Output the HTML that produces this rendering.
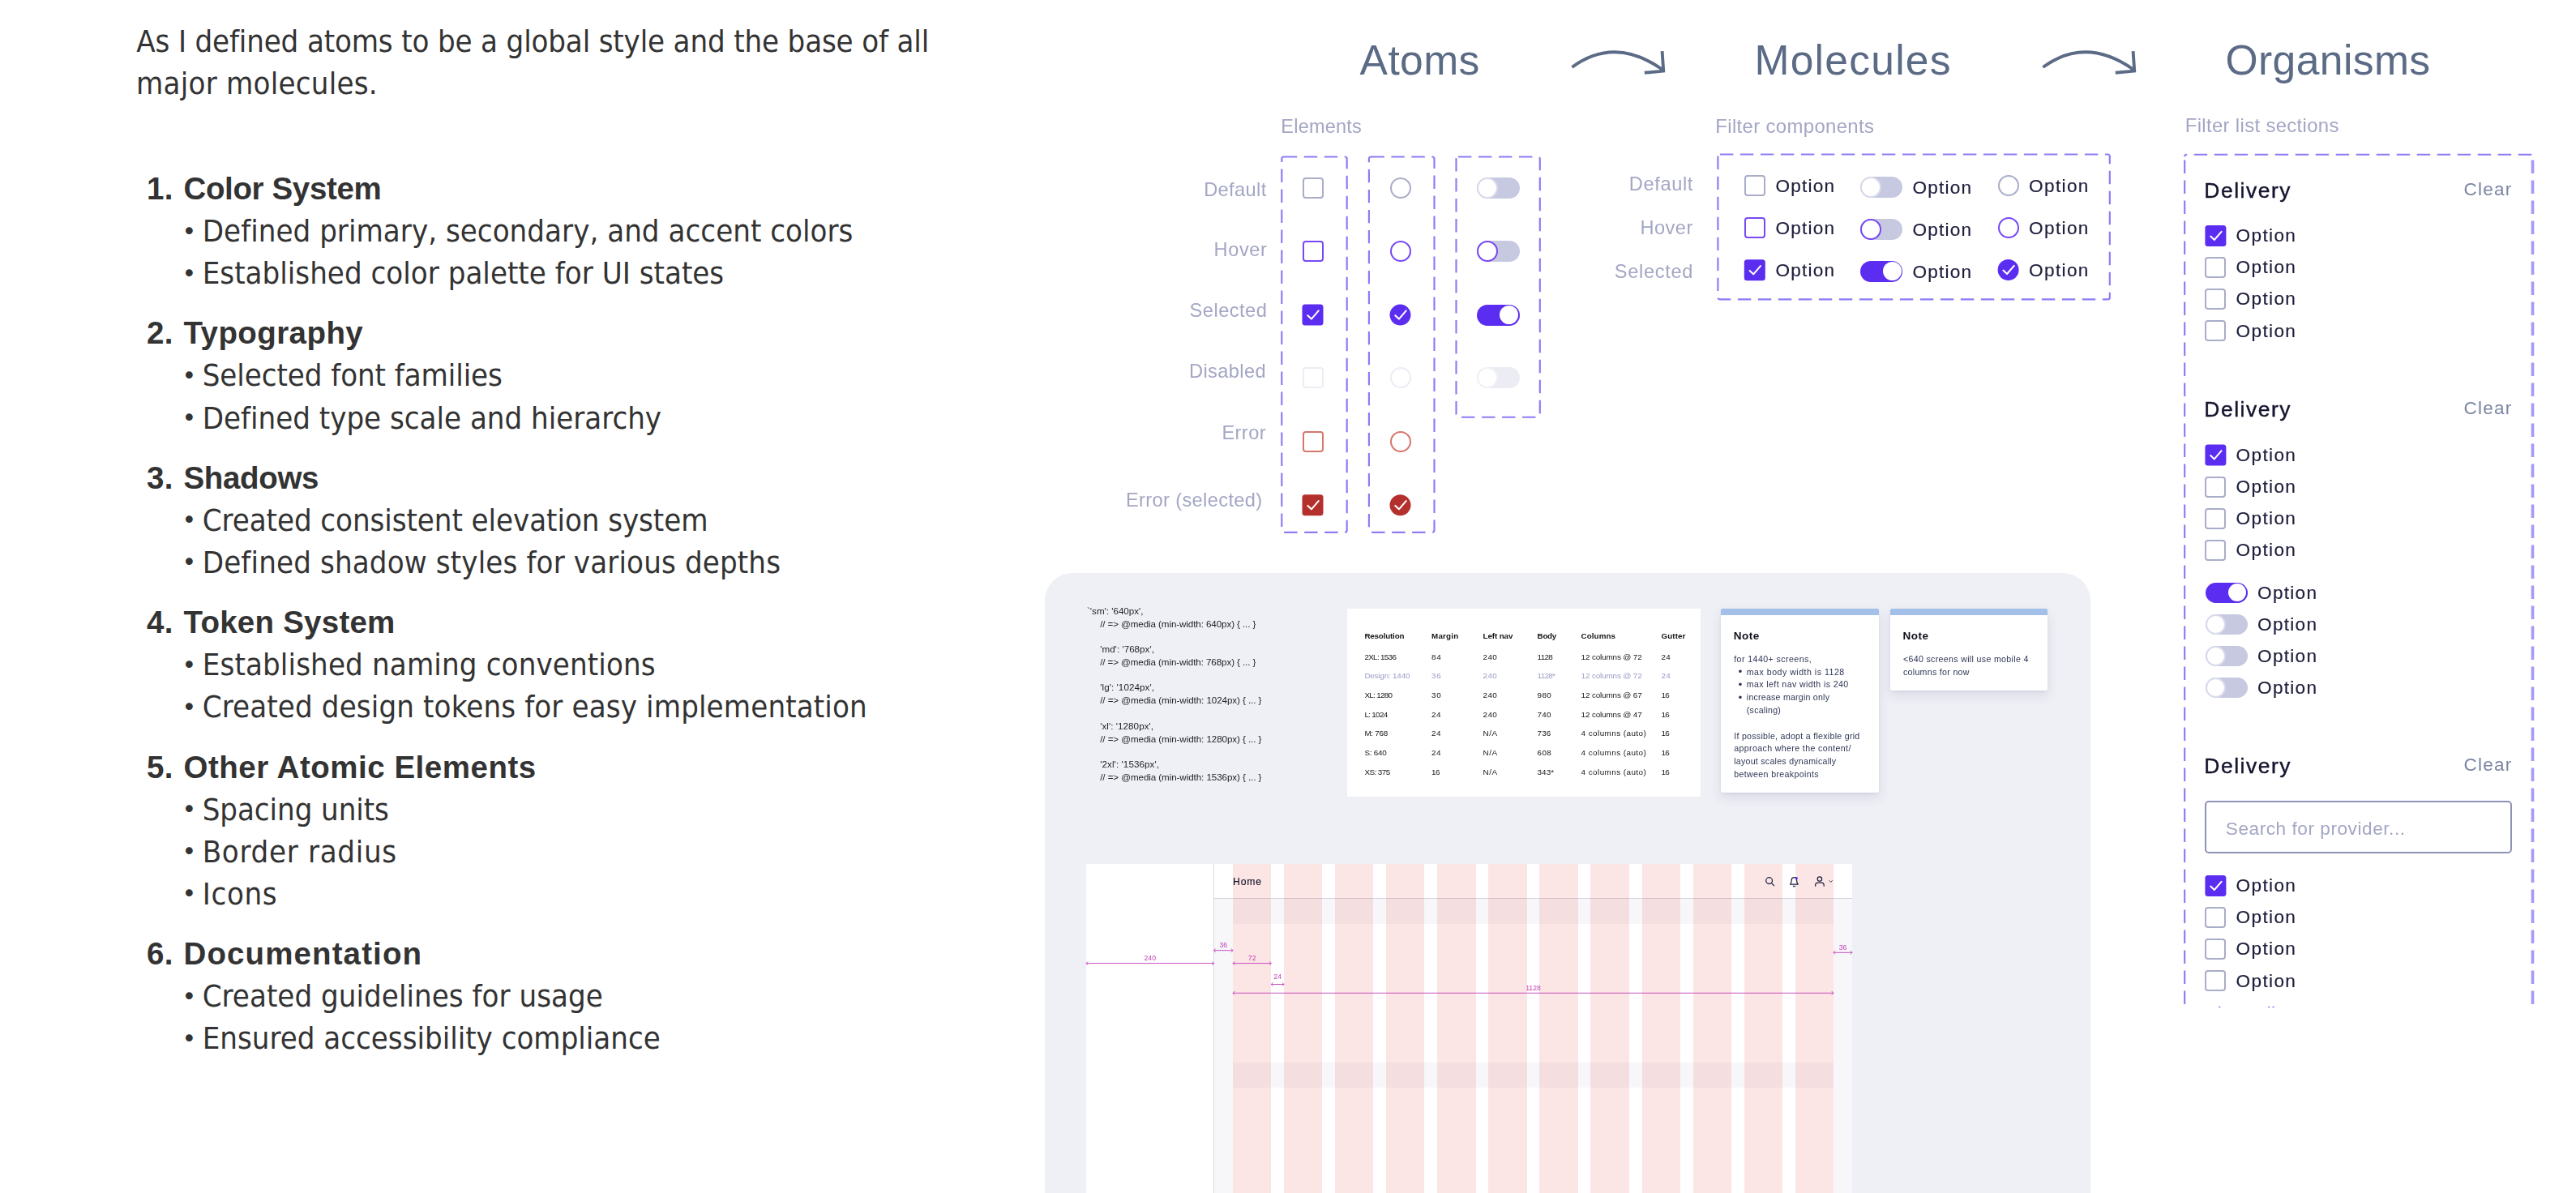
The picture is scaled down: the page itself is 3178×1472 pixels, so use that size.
<!DOCTYPE html><html lang="en"><head><meta charset="utf-8"><title>Atomic design system</title><style>
html,body{margin:0;padding:0;background:#fff;overflow:hidden;}
html{width:3178px;height:1472px;}
body{width:3178px;height:1472px;position:relative;overflow:hidden;}
.t{position:absolute;white-space:pre;line-height:1;margin:0;padding:0;}
.a{position:absolute;}
svg{position:absolute;left:0;top:0;overflow:visible;}
.hd{-webkit-text-stroke:0.45px currentColor;}
.hd2{-webkit-text-stroke:0.18px currentColor;}
.ob{-webkit-text-stroke:0.2px currentColor;}
.clip1240{clip-path:inset(0 0 calc(100% - 5.4px) 0);}
</style></head><body>
<div class="a" style="left:0;top:0;width:3178px;height:1472px;filter:blur(0.6px)">
<svg width="3178" height="1472"><g fill="none" stroke="#5b6b86" stroke-width="3.9" stroke-linecap="butt" stroke-linejoin="miter" transform="translate(0.0,0)"><path d="M1939.4,83 Q1992,44.5 2050.5,85.5"/><path d="M2050.6,63.2 L2052.2,87.6 L2028.8,89.8" stroke-linecap="butt"/></g></svg>
<svg width="3178" height="1472"><g fill="none" stroke="#5b6b86" stroke-width="3.9" stroke-linecap="butt" stroke-linejoin="miter" transform="translate(581.0,0)"><path d="M1939.4,83 Q1992,44.5 2050.5,85.5"/><path d="M2050.6,63.2 L2052.2,87.6 L2028.8,89.8" stroke-linecap="butt"/></g></svg>
<svg width="3178" height="1472"><rect x="1581.3" y="193.5" width="80.4" height="463.3" rx="2.5" fill="none" stroke="#8a7cf6" stroke-width="2.15" stroke-dasharray="16.4 8.6" stroke-dashoffset="0"/></svg>
<svg width="3178" height="1472"><rect x="1688.9" y="193.5" width="80.6" height="463.3" rx="2.5" fill="none" stroke="#8a7cf6" stroke-width="2.15" stroke-dasharray="16.4 8.6" stroke-dashoffset="0"/></svg>
<svg width="3178" height="1472"><rect x="1796.5" y="193.5" width="103.3" height="321.2" rx="2.5" fill="none" stroke="#8a7cf6" stroke-width="2.15" stroke-dasharray="16.4 8.6" stroke-dashoffset="0"/></svg>
<div class="a" style="left:1606.50px;top:219.30px;width:26px;height:26px;box-sizing:border-box;border:2px solid #a9adc8;border-radius:4px;background:#fff"></div>
<div class="a" style="left:1714.50px;top:219.30px;width:26px;height:26px;box-sizing:border-box;border:2px solid #a9adc8;border-radius:50%;background:#fff"></div>
<div class="a" style="left:1606.50px;top:297.20px;width:26px;height:26px;box-sizing:border-box;border:2px solid #7748f6;border-radius:4px;background:#fff"></div>
<div class="a" style="left:1714.50px;top:297.20px;width:26px;height:26px;box-sizing:border-box;border:2px solid #7748f6;border-radius:50%;background:#fff"></div>
<svg width="3178" height="1472"><rect x="1606.50" y="375.60" width="26" height="26" rx="3.5" fill="#5b2df0"/><path d="M1613.30,389.20 l4.6,4.4 l8.8,-10.2" fill="none" stroke="#fff" stroke-width="2.05" stroke-linecap="round" stroke-linejoin="round"/></svg>
<svg width="3178" height="1472"><circle cx="1727.50" cy="388.60" r="13.0" fill="#5b2df0"/><path d="M1721.30,389.20 l4.6,4.4 l8.8,-10.2" fill="none" stroke="#fff" stroke-width="2.05" stroke-linecap="round" stroke-linejoin="round"/></svg>
<div class="a" style="left:1606.50px;top:453.40px;width:26px;height:26px;box-sizing:border-box;border:2px solid #ececf4;border-radius:4px;background:#fff"></div>
<div class="a" style="left:1714.50px;top:453.40px;width:26px;height:26px;box-sizing:border-box;border:2px solid #ececf4;border-radius:50%;background:#fff"></div>
<div class="a" style="left:1606.50px;top:531.80px;width:26px;height:26px;box-sizing:border-box;border:2px solid #d5776d;border-radius:4px;background:#fff"></div>
<div class="a" style="left:1714.50px;top:531.80px;width:26px;height:26px;box-sizing:border-box;border:2px solid #d5776d;border-radius:50%;background:#fff"></div>
<svg width="3178" height="1472"><rect x="1606.50" y="610.30" width="26" height="26" rx="3.5" fill="#b3302d"/><path d="M1613.30,623.90 l4.6,4.4 l8.8,-10.2" fill="none" stroke="#fff" stroke-width="2.05" stroke-linecap="round" stroke-linejoin="round"/></svg>
<svg width="3178" height="1472"><circle cx="1727.50" cy="623.30" r="13.0" fill="#b3302d"/><path d="M1721.30,623.90 l4.6,4.4 l8.8,-10.2" fill="none" stroke="#fff" stroke-width="2.05" stroke-linecap="round" stroke-linejoin="round"/></svg>
<div class="a" style="left:1821.50px;top:219.30px;width:53px;height:26px;border-radius:26px;background:#c6c9e0"></div><div class="a" style="left:1821.50px;top:219.30px;width:26px;height:26px;box-sizing:border-box;border:2px solid #d9dbea;border-radius:50%;background:#fff"></div>
<div class="a" style="left:1821.50px;top:297.20px;width:53px;height:26px;border-radius:26px;background:#c6c9e0"></div><div class="a" style="left:1821.50px;top:297.20px;width:26px;height:26px;box-sizing:border-box;border:2px solid #7748f6;border-radius:50%;background:#fff"></div>
<div class="a" style="left:1821.50px;top:375.60px;width:53px;height:26px;border-radius:26px;background:#5b2df0"></div><div class="a" style="left:1850.00px;top:377.10px;width:23px;height:23px;border-radius:50%;background:#fff"></div>
<div class="a" style="left:1821.50px;top:453.40px;width:53px;height:26px;border-radius:26px;background:#ececf4"></div><div class="a" style="left:1821.50px;top:453.40px;width:26px;height:26px;box-sizing:border-box;border:2px solid #f1f1f7;border-radius:50%;background:#fff"></div>
<svg width="3178" height="1472"><rect x="2119.4" y="190.5" width="483.4" height="178.9" rx="2.5" fill="none" stroke="#8a7cf6" stroke-width="2.15" stroke-dasharray="16.4 8.6" stroke-dashoffset="0"/></svg>
<div class="a" style="left:2151.80px;top:216.30px;width:26px;height:26px;box-sizing:border-box;border:2px solid #a9adc8;border-radius:4px;background:#fff"></div>
<div class="a" style="left:2295.10px;top:217.90px;width:52px;height:26px;border-radius:26px;background:#c6c9e0"></div><div class="a" style="left:2295.10px;top:217.90px;width:26px;height:26px;box-sizing:border-box;border:2px solid #d9dbea;border-radius:50%;background:#fff"></div>
<div class="a" style="left:2464.60px;top:216.00px;width:26px;height:26px;box-sizing:border-box;border:2px solid #a9adc8;border-radius:50%;background:#fff"></div>
<div class="a" style="left:2151.80px;top:268.30px;width:26px;height:26px;box-sizing:border-box;border:2px solid #7748f6;border-radius:4px;background:#fff"></div>
<div class="a" style="left:2295.10px;top:269.90px;width:52px;height:26px;border-radius:26px;background:#c6c9e0"></div><div class="a" style="left:2295.10px;top:269.90px;width:26px;height:26px;box-sizing:border-box;border:2px solid #7748f6;border-radius:50%;background:#fff"></div>
<div class="a" style="left:2464.60px;top:268.00px;width:26px;height:26px;box-sizing:border-box;border:2px solid #7748f6;border-radius:50%;background:#fff"></div>
<svg width="3178" height="1472"><rect x="2151.80" y="320.30" width="26" height="26" rx="3.5" fill="#5b2df0"/><path d="M2158.60,333.90 l4.6,4.4 l8.8,-10.2" fill="none" stroke="#fff" stroke-width="2.05" stroke-linecap="round" stroke-linejoin="round"/></svg>
<div class="a" style="left:2295.10px;top:321.90px;width:52px;height:26px;border-radius:26px;background:#5b2df0"></div><div class="a" style="left:2322.60px;top:323.40px;width:23px;height:23px;border-radius:50%;background:#fff"></div>
<svg width="3178" height="1472"><circle cx="2477.60" cy="333.00" r="13.0" fill="#5b2df0"/><path d="M2471.40,333.60 l4.6,4.4 l8.8,-10.2" fill="none" stroke="#fff" stroke-width="2.05" stroke-linecap="round" stroke-linejoin="round"/></svg>
<div class="a" style="left:2680px;top:0;width:498px;height:1242.0px;overflow:hidden">
<div class="a" style="left:-2680px;top:0;width:3178px;height:1472px">
<svg width="3178" height="1472"><path d="M2695.2,1288.9 L2695.2,193.2" fill="none" stroke="#8a7cf6" stroke-width="2.15" stroke-dasharray="16.4 8.6"/><path d="M3124.5,1288.9 L3124.5,193.2" fill="none" stroke="#a49bf8" stroke-width="3.6" stroke-dasharray="16.4 8.6"/><path d="M2695.2,193.2 Q2695.2,190.7 2697.7,190.7 L3122.0,190.7 Q3124.5,190.7 3124.5,193.2" fill="none" stroke="#8a7cf6" stroke-width="2.15" stroke-dasharray="16.4 8.6" stroke-dashoffset="12"/></svg>
<svg width="3178" height="1472"><rect x="2720.40" y="278.00" width="26" height="26" rx="3.5" fill="#5b2df0"/><path d="M2727.20,291.60 l4.6,4.4 l8.8,-10.2" fill="none" stroke="#fff" stroke-width="2.05" stroke-linecap="round" stroke-linejoin="round"/></svg>
<div class="a" style="left:2720.40px;top:317.10px;width:26px;height:26px;box-sizing:border-box;border:2px solid #a9adc8;border-radius:4px;background:#fff"></div>
<div class="a" style="left:2720.40px;top:356.20px;width:26px;height:26px;box-sizing:border-box;border:2px solid #a9adc8;border-radius:4px;background:#fff"></div>
<div class="a" style="left:2720.40px;top:395.30px;width:26px;height:26px;box-sizing:border-box;border:2px solid #a9adc8;border-radius:4px;background:#fff"></div>
<svg width="3178" height="1472"><rect x="2720.40" y="548.40" width="26" height="26" rx="3.5" fill="#5b2df0"/><path d="M2727.20,562.00 l4.6,4.4 l8.8,-10.2" fill="none" stroke="#fff" stroke-width="2.05" stroke-linecap="round" stroke-linejoin="round"/></svg>
<div class="a" style="left:2720.40px;top:587.80px;width:26px;height:26px;box-sizing:border-box;border:2px solid #a9adc8;border-radius:4px;background:#fff"></div>
<div class="a" style="left:2720.40px;top:626.70px;width:26px;height:26px;box-sizing:border-box;border:2px solid #a9adc8;border-radius:4px;background:#fff"></div>
<div class="a" style="left:2720.40px;top:665.70px;width:26px;height:26px;box-sizing:border-box;border:2px solid #a9adc8;border-radius:4px;background:#fff"></div>
<div class="a" style="left:2720.60px;top:718.60px;width:52px;height:25px;border-radius:25px;background:#5b2df0"></div><div class="a" style="left:2749.10px;top:720.10px;width:22px;height:22px;border-radius:50%;background:#fff"></div>
<div class="a" style="left:2720.60px;top:758.00px;width:52px;height:25px;border-radius:25px;background:#c6c9e0"></div><div class="a" style="left:2720.60px;top:758.00px;width:25px;height:25px;box-sizing:border-box;border:2px solid #d9dbea;border-radius:50%;background:#fff"></div>
<div class="a" style="left:2720.60px;top:797.00px;width:52px;height:25px;border-radius:25px;background:#c6c9e0"></div><div class="a" style="left:2720.60px;top:797.00px;width:25px;height:25px;box-sizing:border-box;border:2px solid #d9dbea;border-radius:50%;background:#fff"></div>
<div class="a" style="left:2720.60px;top:835.90px;width:52px;height:25px;border-radius:25px;background:#c6c9e0"></div><div class="a" style="left:2720.60px;top:835.90px;width:25px;height:25px;box-sizing:border-box;border:2px solid #d9dbea;border-radius:50%;background:#fff"></div>
<div class="a" style="left:2720px;top:988.3px;width:379.1px;height:64.9px;box-sizing:border-box;border:2px solid #8e92b6;border-radius:5px;background:#fff"></div>
<svg width="3178" height="1472"><rect x="2720.40" y="1080.00" width="26" height="26" rx="3.5" fill="#5b2df0"/><path d="M2727.20,1093.60 l4.6,4.4 l8.8,-10.2" fill="none" stroke="#fff" stroke-width="2.05" stroke-linecap="round" stroke-linejoin="round"/></svg>
<div class="a" style="left:2720.40px;top:1119.10px;width:26px;height:26px;box-sizing:border-box;border:2px solid #a9adc8;border-radius:4px;background:#fff"></div>
<div class="a" style="left:2720.40px;top:1158.20px;width:26px;height:26px;box-sizing:border-box;border:2px solid #a9adc8;border-radius:4px;background:#fff"></div>
<div class="a" style="left:2720.40px;top:1197.30px;width:26px;height:26px;box-sizing:border-box;border:2px solid #a9adc8;border-radius:4px;background:#fff"></div>
</div></div>
<div class="a" style="left:1289.2px;top:706.8px;width:1289.5px;height:765.2px;border-radius:34px 34px 0 0;background:#eff0f6"></div>
<div class="a" style="left:1662px;top:750.9px;width:435.7px;height:231.7px;background:#fff"></div>
<div class="a" style="left:2123.4px;top:751.1px;width:194.3px;height:227.0px;background:#fff;border-radius:2px;box-shadow:0 6px 14px rgba(60,64,110,0.13),0 1px 3px rgba(60,64,110,0.08);overflow:hidden"><div style="height:7.6px;background:#a3c0e8"></div></div>
<div class="a" style="left:2332.2px;top:751.1px;width:194.0px;height:100.9px;background:#fff;border-radius:2px;box-shadow:0 6px 14px rgba(60,64,110,0.13),0 1px 3px rgba(60,64,110,0.08);overflow:hidden"><div style="height:7.6px;background:#a3c0e8"></div></div>
<div class="a" style="left:1340.00px;top:1066.30px;width:945.00px;height:405.7px;background:#fff"></div><div class="a" style="left:1497.50px;top:1108.20px;width:787.50px;height:363.8px;background:#f7f7fa"></div><div class="a" style="left:1521.03px;top:1140.0px;width:740.94px;height:170.9px;background:#fff"></div><div class="a" style="left:1521.03px;top:1342.4px;width:740.94px;height:129.6px;background:#fff"></div><div class="a" style="left:1497.00px;top:1066.30px;width:1px;height:405.7px;background:#d9d9e3"></div><div class="a" style="left:1497.50px;top:1107.70px;width:787.50px;height:1px;background:#d4d4dc"></div><div class="a" style="left:1521.03px;top:1066.30px;width:47.28px;height:405.7px;background:rgba(235,60,60,0.135)"></div><div class="a" style="left:1584.09px;top:1066.30px;width:47.28px;height:405.7px;background:rgba(235,60,60,0.135)"></div><div class="a" style="left:1647.14px;top:1066.30px;width:47.28px;height:405.7px;background:rgba(235,60,60,0.135)"></div><div class="a" style="left:1710.21px;top:1066.30px;width:47.28px;height:405.7px;background:rgba(235,60,60,0.135)"></div><div class="a" style="left:1773.27px;top:1066.30px;width:47.28px;height:405.7px;background:rgba(235,60,60,0.135)"></div><div class="a" style="left:1836.33px;top:1066.30px;width:47.28px;height:405.7px;background:rgba(235,60,60,0.135)"></div><div class="a" style="left:1899.39px;top:1066.30px;width:47.28px;height:405.7px;background:rgba(235,60,60,0.135)"></div><div class="a" style="left:1962.45px;top:1066.30px;width:47.28px;height:405.7px;background:rgba(235,60,60,0.135)"></div><div class="a" style="left:2025.51px;top:1066.30px;width:47.28px;height:405.7px;background:rgba(235,60,60,0.135)"></div><div class="a" style="left:2088.57px;top:1066.30px;width:47.28px;height:405.7px;background:rgba(235,60,60,0.135)"></div><div class="a" style="left:2151.62px;top:1066.30px;width:47.28px;height:405.7px;background:rgba(235,60,60,0.135)"></div><div class="a" style="left:2214.69px;top:1066.30px;width:47.28px;height:405.7px;background:rgba(235,60,60,0.135)"></div>
<svg width="3178" height="1472"><g fill="none" stroke="#1c2340" stroke-width="1.25" stroke-linecap="round" stroke-linejoin="round"><circle cx="2182.6" cy="1086.6" r="3.9"/><path d="M2185.5,1089.6 L2188.6,1092.7"/><path d="M2208.6,1091 h9.6 c-1.2,-1.3 -1.7,-2.4 -1.7,-5.2 a3.1,3.1 0 0 0 -6.2,0 c0,2.8 -0.5,3.9 -1.7,5.2 z"/><path d="M2212.4,1093.2 a1.1,1.1 0 0 0 2,0"/><circle cx="2244.9" cy="1084.6" r="2.7"/><path d="M2239.6,1093.2 v-1 a3.2,3.2 0 0 1 3.2,-3.2 h4.2 a3.2,3.2 0 0 1 3.2,3.2 v1"/><path d="M2256.8,1086.6 l1.8,1.8 l1.8,-1.8" stroke-width="0.9"/></g><circle cx="2216.3" cy="1083.6" r="1.6" fill="#5b2df0"/></svg>
<svg width="3178" height="1472"><g fill="none" stroke="#c23db8" stroke-width="0.9"><path d="M1340.00,1188.60 H1497.50 M1340.00,1188.60 l2.2,-2.2 M1340.00,1188.60 l2.2,2.2 M1497.50,1188.60 l-2.2,-2.2 M1497.50,1188.60 l-2.2,2.2"/><path d="M1497.50,1172.70 H1521.03 M1497.50,1172.70 l2.2,-2.2 M1497.50,1172.70 l2.2,2.2 M1521.03,1172.70 l-2.2,-2.2 M1521.03,1172.70 l-2.2,2.2"/><path d="M1521.03,1188.60 H1568.31 M1521.03,1188.60 l2.2,-2.2 M1521.03,1188.60 l2.2,2.2 M1568.31,1188.60 l-2.2,-2.2 M1568.31,1188.60 l-2.2,2.2"/><path d="M1568.31,1214.50 H1584.09 M1568.31,1214.50 l2.2,-2.2 M1568.31,1214.50 l2.2,2.2 M1584.09,1214.50 l-2.2,-2.2 M1584.09,1214.50 l-2.2,2.2"/><path d="M1521.03,1225.30 H2261.97 M1521.03,1225.30 l2.2,-2.2 M1521.03,1225.30 l2.2,2.2 M2261.97,1225.30 l-2.2,-2.2 M2261.97,1225.30 l-2.2,2.2"/><path d="M2261.97,1175.30 H2285.00 M2261.97,1175.30 l2.2,-2.2 M2261.97,1175.30 l2.2,2.2 M2285.00,1175.30 l-2.2,-2.2 M2285.00,1175.30 l-2.2,2.2"/></g></svg>
<span class="t " style="left:1677.60px;top:44.20px;font:400 51.60px 'Liberation Sans','DejaVu Sans',sans-serif;color:#5b6b86;letter-spacing:0.376px;">Atoms</span>
<span class="t " style="left:2164.50px;top:44.30px;font:400 51.60px 'Liberation Sans','DejaVu Sans',sans-serif;color:#5b6b86;letter-spacing:1.218px;">Molecules</span>
<span class="t " style="left:2745.50px;top:44.20px;font:400 51.60px 'Liberation Sans','DejaVu Sans',sans-serif;color:#5b6b86;letter-spacing:0.398px;">Organisms</span>
<span class="t " style="left:1580.30px;top:143.10px;font:400 23.50px 'Liberation Sans','DejaVu Sans',sans-serif;color:#a3a6c4;letter-spacing:0.227px;">Elements</span>
<span class="t " style="left:2116.30px;top:141.70px;font:400 23.90px 'Liberation Sans','DejaVu Sans',sans-serif;color:#a3a6c4;letter-spacing:0.362px;">Filter components</span>
<span class="t " style="left:2695.70px;top:141.40px;font:400 23.90px 'Liberation Sans','DejaVu Sans',sans-serif;color:#a3a6c4;letter-spacing:0.345px;">Filter list sections</span>
<span class="t " style="left:1485.20px;top:221.00px;font:400 23.60px 'Liberation Sans','DejaVu Sans',sans-serif;color:#a3a6c4;letter-spacing:0.383px;">Default</span>
<span class="t " style="left:1497.60px;top:295.20px;font:400 23.60px 'Liberation Sans','DejaVu Sans',sans-serif;color:#a3a6c4;letter-spacing:0.581px;">Hover</span>
<span class="t " style="left:1467.60px;top:370.00px;font:400 23.60px 'Liberation Sans','DejaVu Sans',sans-serif;color:#a3a6c4;letter-spacing:0.491px;">Selected</span>
<span class="t " style="left:1467.00px;top:445.00px;font:400 23.60px 'Liberation Sans','DejaVu Sans',sans-serif;color:#a3a6c4;letter-spacing:0.393px;">Disabled</span>
<span class="t " style="left:1507.40px;top:520.50px;font:400 23.60px 'Liberation Sans','DejaVu Sans',sans-serif;color:#a3a6c4;letter-spacing:0.431px;">Error</span>
<span class="t " style="left:1389.00px;top:603.60px;font:400 23.60px 'Liberation Sans','DejaVu Sans',sans-serif;color:#a3a6c4;letter-spacing:0.372px;">Error (selected)</span>
<span class="t " style="left:2009.80px;top:214.20px;font:400 23.60px 'Liberation Sans','DejaVu Sans',sans-serif;color:#a3a6c4;letter-spacing:0.633px;">Default</span>
<span class="t " style="left:2023.40px;top:268.40px;font:400 23.60px 'Liberation Sans','DejaVu Sans',sans-serif;color:#a3a6c4;letter-spacing:0.506px;">Hover</span>
<span class="t " style="left:1991.80px;top:321.60px;font:400 23.60px 'Liberation Sans','DejaVu Sans',sans-serif;color:#a3a6c4;letter-spacing:0.676px;">Selected</span>
<span class="t ob" style="left:2190.40px;top:216.80px;font:400 22.60px 'Liberation Sans','DejaVu Sans',sans-serif;color:#1f1f3d;letter-spacing:1.208px;">Option</span>
<span class="t ob" style="left:2359.50px;top:218.80px;font:400 22.60px 'Liberation Sans','DejaVu Sans',sans-serif;color:#1f1f3d;letter-spacing:1.188px;">Option</span>
<span class="t ob" style="left:2503.10px;top:216.80px;font:400 22.60px 'Liberation Sans','DejaVu Sans',sans-serif;color:#1f1f3d;letter-spacing:1.348px;">Option</span>
<span class="t ob" style="left:2190.40px;top:268.80px;font:400 22.60px 'Liberation Sans','DejaVu Sans',sans-serif;color:#1f1f3d;letter-spacing:1.208px;">Option</span>
<span class="t ob" style="left:2359.50px;top:270.80px;font:400 22.60px 'Liberation Sans','DejaVu Sans',sans-serif;color:#1f1f3d;letter-spacing:1.188px;">Option</span>
<span class="t ob" style="left:2503.10px;top:268.80px;font:400 22.60px 'Liberation Sans','DejaVu Sans',sans-serif;color:#1f1f3d;letter-spacing:1.348px;">Option</span>
<span class="t ob" style="left:2190.40px;top:320.80px;font:400 22.60px 'Liberation Sans','DejaVu Sans',sans-serif;color:#1f1f3d;letter-spacing:1.208px;">Option</span>
<span class="t ob" style="left:2359.50px;top:322.80px;font:400 22.60px 'Liberation Sans','DejaVu Sans',sans-serif;color:#1f1f3d;letter-spacing:1.188px;">Option</span>
<span class="t ob" style="left:2503.10px;top:320.80px;font:400 22.60px 'Liberation Sans','DejaVu Sans',sans-serif;color:#1f1f3d;letter-spacing:1.348px;">Option</span>
<span class="t hd" style="left:2719.30px;top:219.50px;font:400 26.40px 'Liberation Sans','DejaVu Sans',sans-serif;color:#15152f;letter-spacing:1.551px;">Delivery</span>
<span class="t " style="left:3039.50px;top:220.50px;font:400 22.60px 'Liberation Sans','DejaVu Sans',sans-serif;color:#7c85a3;letter-spacing:1.179px;">Clear</span>
<span class="t ob" style="left:2758.60px;top:278.20px;font:400 22.60px 'Liberation Sans','DejaVu Sans',sans-serif;color:#1f1f3d;letter-spacing:1.348px;">Option</span>
<span class="t ob" style="left:2758.60px;top:317.30px;font:400 22.60px 'Liberation Sans','DejaVu Sans',sans-serif;color:#1f1f3d;letter-spacing:1.348px;">Option</span>
<span class="t ob" style="left:2758.60px;top:356.40px;font:400 22.60px 'Liberation Sans','DejaVu Sans',sans-serif;color:#1f1f3d;letter-spacing:1.348px;">Option</span>
<span class="t ob" style="left:2758.60px;top:395.50px;font:400 22.60px 'Liberation Sans','DejaVu Sans',sans-serif;color:#1f1f3d;letter-spacing:1.348px;">Option</span>
<span class="t hd" style="left:2719.30px;top:490.00px;font:400 26.40px 'Liberation Sans','DejaVu Sans',sans-serif;color:#15152f;letter-spacing:1.551px;">Delivery</span>
<span class="t " style="left:3039.50px;top:491.00px;font:400 22.60px 'Liberation Sans','DejaVu Sans',sans-serif;color:#7c85a3;letter-spacing:1.179px;">Clear</span>
<span class="t ob" style="left:2758.60px;top:548.60px;font:400 22.60px 'Liberation Sans','DejaVu Sans',sans-serif;color:#1f1f3d;letter-spacing:1.348px;">Option</span>
<span class="t ob" style="left:2758.60px;top:588.00px;font:400 22.60px 'Liberation Sans','DejaVu Sans',sans-serif;color:#1f1f3d;letter-spacing:1.348px;">Option</span>
<span class="t ob" style="left:2758.60px;top:626.90px;font:400 22.60px 'Liberation Sans','DejaVu Sans',sans-serif;color:#1f1f3d;letter-spacing:1.348px;">Option</span>
<span class="t ob" style="left:2758.60px;top:665.90px;font:400 22.60px 'Liberation Sans','DejaVu Sans',sans-serif;color:#1f1f3d;letter-spacing:1.348px;">Option</span>
<span class="t ob" style="left:2785.10px;top:718.50px;font:400 22.60px 'Liberation Sans','DejaVu Sans',sans-serif;color:#1f1f3d;letter-spacing:1.268px;">Option</span>
<span class="t ob" style="left:2785.10px;top:757.90px;font:400 22.60px 'Liberation Sans','DejaVu Sans',sans-serif;color:#1f1f3d;letter-spacing:1.268px;">Option</span>
<span class="t ob" style="left:2785.10px;top:796.90px;font:400 22.60px 'Liberation Sans','DejaVu Sans',sans-serif;color:#1f1f3d;letter-spacing:1.268px;">Option</span>
<span class="t ob" style="left:2785.10px;top:835.80px;font:400 22.60px 'Liberation Sans','DejaVu Sans',sans-serif;color:#1f1f3d;letter-spacing:1.268px;">Option</span>
<span class="t hd" style="left:2719.30px;top:930.00px;font:400 26.40px 'Liberation Sans','DejaVu Sans',sans-serif;color:#15152f;letter-spacing:1.551px;">Delivery</span>
<span class="t " style="left:3039.50px;top:931.00px;font:400 22.60px 'Liberation Sans','DejaVu Sans',sans-serif;color:#7c85a3;letter-spacing:1.179px;">Clear</span>
<span class="t " style="left:2745.80px;top:1009.60px;font:400 22.60px 'Liberation Sans','DejaVu Sans',sans-serif;color:#a3a6c4;letter-spacing:0.547px;">Search for provider...</span>
<span class="t ob" style="left:2758.60px;top:1080.20px;font:400 22.60px 'Liberation Sans','DejaVu Sans',sans-serif;color:#1f1f3d;letter-spacing:1.348px;">Option</span>
<span class="t ob" style="left:2758.60px;top:1119.30px;font:400 22.60px 'Liberation Sans','DejaVu Sans',sans-serif;color:#1f1f3d;letter-spacing:1.348px;">Option</span>
<span class="t ob" style="left:2758.60px;top:1158.40px;font:400 22.60px 'Liberation Sans','DejaVu Sans',sans-serif;color:#1f1f3d;letter-spacing:1.348px;">Option</span>
<span class="t ob" style="left:2758.60px;top:1197.50px;font:400 22.60px 'Liberation Sans','DejaVu Sans',sans-serif;color:#1f1f3d;letter-spacing:1.348px;">Option</span>
<span class="t clip1240" style="left:2720.50px;top:1237.50px;font:400 22.60px 'Liberation Sans','DejaVu Sans',sans-serif;color:#5b2df0;letter-spacing:0.159px;">Show all</span>
<span class="t " style="left:1341.00px;top:746.90px;font:400 11.60px 'Liberation Sans','DejaVu Sans',sans-serif;color:#1d1d1f;letter-spacing:0.007px;">`&#x27;sm&#x27;: &#x27;640px&#x27;,</span>
<span class="t " style="left:1357.20px;top:762.80px;font:400 11.60px 'Liberation Sans','DejaVu Sans',sans-serif;color:#1d1d1f;letter-spacing:-0.085px;">// =&gt; @media (min-width: 640px) { ... }</span>
<span class="t " style="left:1357.20px;top:794.10px;font:400 11.60px 'Liberation Sans','DejaVu Sans',sans-serif;color:#1d1d1f;letter-spacing:0.039px;">&#x27;md&#x27;: &#x27;768px&#x27;,</span>
<span class="t " style="left:1357.20px;top:810.00px;font:400 11.60px 'Liberation Sans','DejaVu Sans',sans-serif;color:#1d1d1f;letter-spacing:-0.085px;">// =&gt; @media (min-width: 768px) { ... }</span>
<span class="t " style="left:1357.20px;top:841.40px;font:400 11.60px 'Liberation Sans','DejaVu Sans',sans-serif;color:#1d1d1f;letter-spacing:0.082px;">&#x27;lg&#x27;: &#x27;1024px&#x27;,</span>
<span class="t " style="left:1357.20px;top:857.30px;font:400 11.60px 'Liberation Sans','DejaVu Sans',sans-serif;color:#1d1d1f;letter-spacing:-0.068px;">// =&gt; @media (min-width: 1024px) { ... }</span>
<span class="t " style="left:1357.20px;top:888.60px;font:400 11.60px 'Liberation Sans','DejaVu Sans',sans-serif;color:#1d1d1f;letter-spacing:0.063px;">&#x27;xl&#x27;: &#x27;1280px&#x27;,</span>
<span class="t " style="left:1357.20px;top:904.50px;font:400 11.60px 'Liberation Sans','DejaVu Sans',sans-serif;color:#1d1d1f;letter-spacing:-0.068px;">// =&gt; @media (min-width: 1280px) { ... }</span>
<span class="t " style="left:1357.20px;top:935.80px;font:400 11.60px 'Liberation Sans','DejaVu Sans',sans-serif;color:#1d1d1f;letter-spacing:0.096px;">&#x27;2xl&#x27;: &#x27;1536px&#x27;,</span>
<span class="t " style="left:1357.20px;top:951.70px;font:400 11.60px 'Liberation Sans','DejaVu Sans',sans-serif;color:#1d1d1f;letter-spacing:-0.068px;">// =&gt; @media (min-width: 1536px) { ... }</span>
<span class="t " style="left:1683.40px;top:779.40px;font:700 9.80px 'Liberation Sans','DejaVu Sans',sans-serif;color:#151515;letter-spacing:-0.176px;">Resolution</span>
<span class="t " style="left:1766.10px;top:779.40px;font:700 9.80px 'Liberation Sans','DejaVu Sans',sans-serif;color:#151515;letter-spacing:0.203px;">Margin</span>
<span class="t " style="left:1829.60px;top:779.40px;font:700 9.80px 'Liberation Sans','DejaVu Sans',sans-serif;color:#151515;letter-spacing:-0.117px;">Left nav</span>
<span class="t " style="left:1896.60px;top:779.40px;font:700 9.80px 'Liberation Sans','DejaVu Sans',sans-serif;color:#151515;letter-spacing:-0.286px;">Body</span>
<span class="t " style="left:1950.60px;top:779.40px;font:700 9.80px 'Liberation Sans','DejaVu Sans',sans-serif;color:#151515;letter-spacing:0.070px;">Columns</span>
<span class="t " style="left:2049.40px;top:779.40px;font:700 9.80px 'Liberation Sans','DejaVu Sans',sans-serif;color:#151515;letter-spacing:0.127px;">Gutter</span>
<span class="t " style="left:1683.40px;top:804.80px;font:400 9.90px 'Liberation Sans','DejaVu Sans',sans-serif;color:#151515;letter-spacing:-0.693px;">2XL: 1536</span>
<span class="t " style="left:1766.10px;top:804.80px;font:400 9.90px 'Liberation Sans','DejaVu Sans',sans-serif;color:#151515;letter-spacing:0.661px;">84</span>
<span class="t " style="left:1829.60px;top:804.80px;font:400 9.90px 'Liberation Sans','DejaVu Sans',sans-serif;color:#151515;letter-spacing:0.381px;">240</span>
<span class="t " style="left:1896.60px;top:804.80px;font:400 9.90px 'Liberation Sans','DejaVu Sans',sans-serif;color:#151515;letter-spacing:-0.693px;">1128</span>
<span class="t " style="left:1950.60px;top:804.80px;font:400 9.90px 'Liberation Sans','DejaVu Sans',sans-serif;color:#151515;letter-spacing:-0.140px;">12 columns @ 72</span>
<span class="t " style="left:2049.40px;top:804.80px;font:400 9.90px 'Liberation Sans','DejaVu Sans',sans-serif;color:#151515;letter-spacing:0.361px;">24</span>
<span class="t " style="left:1683.40px;top:828.30px;font:400 9.90px 'Liberation Sans','DejaVu Sans',sans-serif;color:#9b9cc6;letter-spacing:-0.196px;">Design: 1440</span>
<span class="t " style="left:1766.10px;top:828.30px;font:400 9.90px 'Liberation Sans','DejaVu Sans',sans-serif;color:#9b9cc6;letter-spacing:0.661px;">36</span>
<span class="t " style="left:1829.60px;top:828.30px;font:400 9.90px 'Liberation Sans','DejaVu Sans',sans-serif;color:#9b9cc6;letter-spacing:0.381px;">240</span>
<span class="t " style="left:1896.60px;top:828.30px;font:400 9.90px 'Liberation Sans','DejaVu Sans',sans-serif;color:#9b9cc6;letter-spacing:-0.693px;">1128*</span>
<span class="t " style="left:1950.60px;top:828.30px;font:400 9.90px 'Liberation Sans','DejaVu Sans',sans-serif;color:#9b9cc6;letter-spacing:-0.140px;">12 columns @ 72</span>
<span class="t " style="left:2049.40px;top:828.30px;font:400 9.90px 'Liberation Sans','DejaVu Sans',sans-serif;color:#9b9cc6;letter-spacing:0.361px;">24</span>
<span class="t " style="left:1683.40px;top:852.00px;font:400 9.90px 'Liberation Sans','DejaVu Sans',sans-serif;color:#151515;letter-spacing:-0.693px;">XL: 1280</span>
<span class="t " style="left:1766.10px;top:852.00px;font:400 9.90px 'Liberation Sans','DejaVu Sans',sans-serif;color:#151515;letter-spacing:0.661px;">30</span>
<span class="t " style="left:1829.60px;top:852.00px;font:400 9.90px 'Liberation Sans','DejaVu Sans',sans-serif;color:#151515;letter-spacing:0.381px;">240</span>
<span class="t " style="left:1896.60px;top:852.00px;font:400 9.90px 'Liberation Sans','DejaVu Sans',sans-serif;color:#151515;letter-spacing:0.381px;">980</span>
<span class="t " style="left:1950.60px;top:852.00px;font:400 9.90px 'Liberation Sans','DejaVu Sans',sans-serif;color:#151515;letter-spacing:-0.140px;">12 columns @ 67</span>
<span class="t " style="left:2049.40px;top:852.00px;font:400 9.90px 'Liberation Sans','DejaVu Sans',sans-serif;color:#151515;letter-spacing:-0.693px;">16</span>
<span class="t " style="left:1683.40px;top:875.80px;font:400 9.90px 'Liberation Sans','DejaVu Sans',sans-serif;color:#151515;letter-spacing:-0.693px;">L: 1024</span>
<span class="t " style="left:1766.10px;top:875.80px;font:400 9.90px 'Liberation Sans','DejaVu Sans',sans-serif;color:#151515;letter-spacing:0.361px;">24</span>
<span class="t " style="left:1829.60px;top:875.80px;font:400 9.90px 'Liberation Sans','DejaVu Sans',sans-serif;color:#151515;letter-spacing:0.381px;">240</span>
<span class="t " style="left:1896.60px;top:875.80px;font:400 9.90px 'Liberation Sans','DejaVu Sans',sans-serif;color:#151515;letter-spacing:0.231px;">740</span>
<span class="t " style="left:1950.60px;top:875.80px;font:400 9.90px 'Liberation Sans','DejaVu Sans',sans-serif;color:#151515;letter-spacing:-0.140px;">12 columns @ 47</span>
<span class="t " style="left:2049.40px;top:875.80px;font:400 9.90px 'Liberation Sans','DejaVu Sans',sans-serif;color:#151515;letter-spacing:-0.693px;">16</span>
<span class="t " style="left:1683.40px;top:899.30px;font:400 9.90px 'Liberation Sans','DejaVu Sans',sans-serif;color:#151515;letter-spacing:-0.252px;">M: 768</span>
<span class="t " style="left:1766.10px;top:899.30px;font:400 9.90px 'Liberation Sans','DejaVu Sans',sans-serif;color:#151515;letter-spacing:0.361px;">24</span>
<span class="t " style="left:1829.60px;top:899.30px;font:400 9.90px 'Liberation Sans','DejaVu Sans',sans-serif;color:#151515;letter-spacing:0.488px;">N/A</span>
<span class="t " style="left:1896.60px;top:899.30px;font:400 9.90px 'Liberation Sans','DejaVu Sans',sans-serif;color:#151515;letter-spacing:0.081px;">736</span>
<span class="t " style="left:1950.60px;top:899.30px;font:400 9.90px 'Liberation Sans','DejaVu Sans',sans-serif;color:#151515;letter-spacing:0.440px;">4 columns (auto)</span>
<span class="t " style="left:2049.40px;top:899.30px;font:400 9.90px 'Liberation Sans','DejaVu Sans',sans-serif;color:#151515;letter-spacing:-0.693px;">16</span>
<span class="t " style="left:1683.40px;top:923.00px;font:400 9.90px 'Liberation Sans','DejaVu Sans',sans-serif;color:#151515;letter-spacing:-0.263px;">S: 640</span>
<span class="t " style="left:1766.10px;top:923.00px;font:400 9.90px 'Liberation Sans','DejaVu Sans',sans-serif;color:#151515;letter-spacing:0.361px;">24</span>
<span class="t " style="left:1829.60px;top:923.00px;font:400 9.90px 'Liberation Sans','DejaVu Sans',sans-serif;color:#151515;letter-spacing:0.488px;">N/A</span>
<span class="t " style="left:1896.60px;top:923.00px;font:400 9.90px 'Liberation Sans','DejaVu Sans',sans-serif;color:#151515;letter-spacing:0.381px;">608</span>
<span class="t " style="left:1950.60px;top:923.00px;font:400 9.90px 'Liberation Sans','DejaVu Sans',sans-serif;color:#151515;letter-spacing:0.440px;">4 columns (auto)</span>
<span class="t " style="left:2049.40px;top:923.00px;font:400 9.90px 'Liberation Sans','DejaVu Sans',sans-serif;color:#151515;letter-spacing:-0.693px;">16</span>
<span class="t " style="left:1683.40px;top:946.50px;font:400 9.90px 'Liberation Sans','DejaVu Sans',sans-serif;color:#151515;letter-spacing:-0.566px;">XS: 375</span>
<span class="t " style="left:1766.10px;top:946.50px;font:400 9.90px 'Liberation Sans','DejaVu Sans',sans-serif;color:#151515;letter-spacing:-0.693px;">16</span>
<span class="t " style="left:1829.60px;top:946.50px;font:400 9.90px 'Liberation Sans','DejaVu Sans',sans-serif;color:#151515;letter-spacing:0.488px;">N/A</span>
<span class="t " style="left:1896.60px;top:946.50px;font:400 9.90px 'Liberation Sans','DejaVu Sans',sans-serif;color:#151515;letter-spacing:0.039px;">343*</span>
<span class="t " style="left:1950.60px;top:946.50px;font:400 9.90px 'Liberation Sans','DejaVu Sans',sans-serif;color:#151515;letter-spacing:0.440px;">4 columns (auto)</span>
<span class="t " style="left:2049.40px;top:946.50px;font:400 9.90px 'Liberation Sans','DejaVu Sans',sans-serif;color:#151515;letter-spacing:-0.693px;">16</span>
<span class="t " style="left:2138.80px;top:777.40px;font:700 13.50px 'Liberation Sans','DejaVu Sans',sans-serif;color:#10101c;letter-spacing:0.469px;">Note</span>
<span class="t " style="left:2347.50px;top:777.40px;font:700 13.50px 'Liberation Sans','DejaVu Sans',sans-serif;color:#10101c;letter-spacing:0.469px;">Note</span>
<span class="t " style="left:2139.20px;top:806.80px;font:400 10.60px 'Liberation Sans','DejaVu Sans',sans-serif;color:#2e3654;letter-spacing:0.437px;">for 1440+ screens,</span>
<span class="t " style="left:2154.80px;top:822.50px;font:400 10.60px 'Liberation Sans','DejaVu Sans',sans-serif;color:#2e3654;letter-spacing:0.498px;">max body width is 1128</span>
<span class="t " style="left:2154.80px;top:838.40px;font:400 10.60px 'Liberation Sans','DejaVu Sans',sans-serif;color:#2e3654;letter-spacing:0.391px;">max left nav width is 240</span>
<span class="t " style="left:2154.80px;top:854.00px;font:400 10.60px 'Liberation Sans','DejaVu Sans',sans-serif;color:#2e3654;letter-spacing:0.233px;">increase margin only</span>
<span class="t " style="left:2154.80px;top:869.70px;font:400 10.60px 'Liberation Sans','DejaVu Sans',sans-serif;color:#2e3654;letter-spacing:0.254px;">(scaling)</span>
<span class="t " style="left:2139.20px;top:901.60px;font:400 10.60px 'Liberation Sans','DejaVu Sans',sans-serif;color:#2e3654;letter-spacing:0.291px;">If possible, adopt a flexible grid</span>
<span class="t " style="left:2139.20px;top:917.20px;font:400 10.60px 'Liberation Sans','DejaVu Sans',sans-serif;color:#2e3654;letter-spacing:0.381px;">approach where the content/</span>
<span class="t " style="left:2139.20px;top:932.90px;font:400 10.60px 'Liberation Sans','DejaVu Sans',sans-serif;color:#2e3654;letter-spacing:0.269px;">layout scales dynamically</span>
<span class="t " style="left:2139.20px;top:948.80px;font:400 10.60px 'Liberation Sans','DejaVu Sans',sans-serif;color:#2e3654;letter-spacing:0.373px;">between breakpoints</span>
<span class="t " style="left:2143.20px;top:821.40px;font:400 12.50px 'DejaVu Sans','Liberation Sans',sans-serif;color:#2e3654;">•</span>
<span class="t " style="left:2143.20px;top:837.30px;font:400 12.50px 'DejaVu Sans','Liberation Sans',sans-serif;color:#2e3654;">•</span>
<span class="t " style="left:2143.20px;top:852.90px;font:400 12.50px 'DejaVu Sans','Liberation Sans',sans-serif;color:#2e3654;">•</span>
<span class="t " style="left:2347.90px;top:806.80px;font:400 10.60px 'Liberation Sans','DejaVu Sans',sans-serif;color:#2e3654;letter-spacing:0.342px;">&lt;640 screens will use mobile 4</span>
<span class="t " style="left:2347.90px;top:822.50px;font:400 10.60px 'Liberation Sans','DejaVu Sans',sans-serif;color:#2e3654;letter-spacing:0.317px;">columns for now</span>
<span class="t hd2" style="left:1521.00px;top:1080.90px;font:400 12.20px 'Liberation Sans','DejaVu Sans',sans-serif;color:#17172b;letter-spacing:0.878px;">Home</span>
<span class="t " style="left:1411.50px;top:1176.80px;font:400 8.70px 'Liberation Sans','DejaVu Sans',sans-serif;color:#c23db8;">240</span>
<span class="t " style="left:1504.43px;top:1160.90px;font:400 8.70px 'Liberation Sans','DejaVu Sans',sans-serif;color:#c23db8;">36</span>
<span class="t " style="left:1539.83px;top:1176.80px;font:400 8.70px 'Liberation Sans','DejaVu Sans',sans-serif;color:#c23db8;">72</span>
<span class="t " style="left:1571.36px;top:1199.90px;font:400 8.70px 'Liberation Sans','DejaVu Sans',sans-serif;color:#c23db8;">24</span>
<span class="t " style="left:1882.15px;top:1213.50px;font:400 8.70px 'Liberation Sans','DejaVu Sans',sans-serif;color:#c23db8;">1128</span>
<span class="t " style="left:2268.65px;top:1163.50px;font:400 8.70px 'Liberation Sans','DejaVu Sans',sans-serif;color:#c23db8;">36</span>
</div>
<span class="t " style="left:168.30px;top:29.00px;font:400 38.00px 'DejaVu Sans Condensed','Liberation Sans',sans-serif;color:#333333;letter-spacing:-0.149px;">As I defined atoms to be a global style and the base of all</span>
<span class="t " style="left:168.00px;top:81.10px;font:400 38.00px 'DejaVu Sans Condensed','Liberation Sans',sans-serif;color:#333333;letter-spacing:0.247px;">major molecules.</span>
<span class="t " style="left:181.00px;top:210.90px;font:700 38.50px 'Liberation Sans','DejaVu Sans',sans-serif;color:#333333;letter-spacing:0.223px;">1.</span>
<span class="t " style="left:226.50px;top:210.90px;font:700 38.50px 'Liberation Sans','DejaVu Sans',sans-serif;color:#333333;letter-spacing:-0.360px;">Color System</span>
<span class="t " style="left:224.50px;top:267.50px;font:400 30.00px 'DejaVu Sans','Liberation Sans',sans-serif;color:#333333;">•</span>
<span class="t " style="left:249.70px;top:263.00px;font:400 38.00px 'DejaVu Sans Condensed','Liberation Sans',sans-serif;color:#333333;letter-spacing:0.034px;">Defined primary, secondary, and accent colors</span>
<span class="t " style="left:224.50px;top:319.60px;font:400 30.00px 'DejaVu Sans','Liberation Sans',sans-serif;color:#333333;">•</span>
<span class="t " style="left:249.70px;top:315.10px;font:400 38.00px 'DejaVu Sans Condensed','Liberation Sans',sans-serif;color:#333333;letter-spacing:0.022px;">Established color palette for UI states</span>
<span class="t " style="left:181.00px;top:389.30px;font:700 38.50px 'Liberation Sans','DejaVu Sans',sans-serif;color:#333333;letter-spacing:0.223px;">2.</span>
<span class="t " style="left:226.50px;top:389.30px;font:700 38.50px 'Liberation Sans','DejaVu Sans',sans-serif;color:#333333;letter-spacing:0.418px;">Typography</span>
<span class="t " style="left:224.50px;top:445.90px;font:400 30.00px 'DejaVu Sans','Liberation Sans',sans-serif;color:#333333;">•</span>
<span class="t " style="left:249.70px;top:441.40px;font:400 38.00px 'DejaVu Sans Condensed','Liberation Sans',sans-serif;color:#333333;letter-spacing:-0.065px;">Selected font families</span>
<span class="t " style="left:224.50px;top:498.00px;font:400 30.00px 'DejaVu Sans','Liberation Sans',sans-serif;color:#333333;">•</span>
<span class="t " style="left:249.70px;top:493.50px;font:400 38.00px 'DejaVu Sans Condensed','Liberation Sans',sans-serif;color:#333333;letter-spacing:-0.008px;">Defined type scale and hierarchy</span>
<span class="t " style="left:181.00px;top:567.70px;font:700 38.50px 'Liberation Sans','DejaVu Sans',sans-serif;color:#333333;letter-spacing:0.223px;">3.</span>
<span class="t " style="left:226.50px;top:567.70px;font:700 38.50px 'Liberation Sans','DejaVu Sans',sans-serif;color:#333333;letter-spacing:-0.331px;">Shadows</span>
<span class="t " style="left:224.50px;top:624.30px;font:400 30.00px 'DejaVu Sans','Liberation Sans',sans-serif;color:#333333;">•</span>
<span class="t " style="left:249.70px;top:619.80px;font:400 38.00px 'DejaVu Sans Condensed','Liberation Sans',sans-serif;color:#333333;letter-spacing:-0.054px;">Created consistent elevation system</span>
<span class="t " style="left:224.50px;top:676.40px;font:400 30.00px 'DejaVu Sans','Liberation Sans',sans-serif;color:#333333;">•</span>
<span class="t " style="left:249.70px;top:671.90px;font:400 38.00px 'DejaVu Sans Condensed','Liberation Sans',sans-serif;color:#333333;letter-spacing:0.140px;">Defined shadow styles for various depths</span>
<span class="t " style="left:181.00px;top:746.10px;font:700 38.50px 'Liberation Sans','DejaVu Sans',sans-serif;color:#333333;letter-spacing:0.223px;">4.</span>
<span class="t " style="left:226.50px;top:746.10px;font:700 38.50px 'Liberation Sans','DejaVu Sans',sans-serif;color:#333333;letter-spacing:0.240px;">Token System</span>
<span class="t " style="left:224.50px;top:802.70px;font:400 30.00px 'DejaVu Sans','Liberation Sans',sans-serif;color:#333333;">•</span>
<span class="t " style="left:249.70px;top:798.20px;font:400 38.00px 'DejaVu Sans Condensed','Liberation Sans',sans-serif;color:#333333;letter-spacing:0.144px;">Established naming conventions</span>
<span class="t " style="left:224.50px;top:854.80px;font:400 30.00px 'DejaVu Sans','Liberation Sans',sans-serif;color:#333333;">•</span>
<span class="t " style="left:249.70px;top:850.30px;font:400 38.00px 'DejaVu Sans Condensed','Liberation Sans',sans-serif;color:#333333;letter-spacing:0.134px;">Created design tokens for easy implementation</span>
<span class="t " style="left:181.00px;top:924.50px;font:700 38.50px 'Liberation Sans','DejaVu Sans',sans-serif;color:#333333;letter-spacing:0.223px;">5.</span>
<span class="t " style="left:226.50px;top:924.50px;font:700 38.50px 'Liberation Sans','DejaVu Sans',sans-serif;color:#333333;letter-spacing:0.521px;">Other Atomic Elements</span>
<span class="t " style="left:224.50px;top:981.10px;font:400 30.00px 'DejaVu Sans','Liberation Sans',sans-serif;color:#333333;">•</span>
<span class="t " style="left:249.70px;top:976.60px;font:400 38.00px 'DejaVu Sans Condensed','Liberation Sans',sans-serif;color:#333333;letter-spacing:-0.062px;">Spacing units</span>
<span class="t " style="left:224.50px;top:1033.20px;font:400 30.00px 'DejaVu Sans','Liberation Sans',sans-serif;color:#333333;">•</span>
<span class="t " style="left:249.70px;top:1028.70px;font:400 38.00px 'DejaVu Sans Condensed','Liberation Sans',sans-serif;color:#333333;letter-spacing:0.693px;">Border radius</span>
<span class="t " style="left:224.50px;top:1085.30px;font:400 30.00px 'DejaVu Sans','Liberation Sans',sans-serif;color:#333333;">•</span>
<span class="t " style="left:249.70px;top:1080.80px;font:400 38.00px 'DejaVu Sans Condensed','Liberation Sans',sans-serif;color:#333333;letter-spacing:0.682px;">Icons</span>
<span class="t " style="left:181.00px;top:1155.00px;font:700 38.50px 'Liberation Sans','DejaVu Sans',sans-serif;color:#333333;letter-spacing:0.223px;">6.</span>
<span class="t " style="left:226.50px;top:1155.00px;font:700 38.50px 'Liberation Sans','DejaVu Sans',sans-serif;color:#333333;letter-spacing:1.111px;">Documentation</span>
<span class="t " style="left:224.50px;top:1211.60px;font:400 30.00px 'DejaVu Sans','Liberation Sans',sans-serif;color:#333333;">•</span>
<span class="t " style="left:249.70px;top:1207.10px;font:400 38.00px 'DejaVu Sans Condensed','Liberation Sans',sans-serif;color:#333333;letter-spacing:0.041px;">Created guidelines for usage</span>
<span class="t " style="left:224.50px;top:1263.70px;font:400 30.00px 'DejaVu Sans','Liberation Sans',sans-serif;color:#333333;">•</span>
<span class="t " style="left:249.70px;top:1259.20px;font:400 38.00px 'DejaVu Sans Condensed','Liberation Sans',sans-serif;color:#333333;">Ensured accessibility compliance</span>
</body></html>
